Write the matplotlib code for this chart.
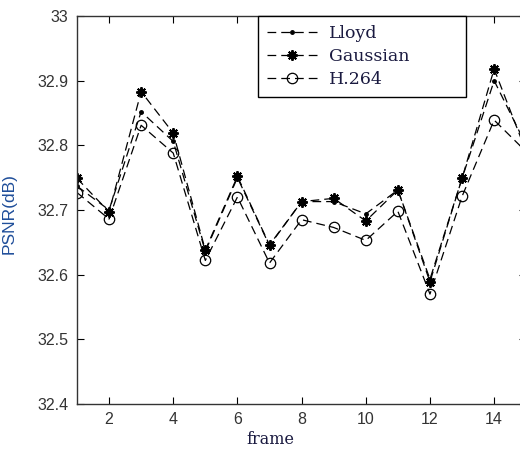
import numpy as np
import matplotlib
matplotlib.use('Agg')
import matplotlib.pyplot as plt

# values
frames = np.arange(1, 16)
lloyd = [32.737, 32.700, 32.852, 32.806, 32.636, 32.750, 32.645, 32.713, 32.713,
         32.694, 32.731, 32.593, 32.749, 32.900, 32.800]
gaussian = [32.749, 32.697, 32.883, 32.819, 32.638, 32.752, 32.646, 32.713, 32.718,
            32.683, 32.731, 32.589, 32.749, 32.918, 32.790]
h264 = [32.727, 32.686, 32.831, 32.788, 32.622, 32.720, 32.618, 32.685, 32.673,
        32.653, 32.698, 32.570, 32.721, 32.839, 32.790]
names = ['Lloyd', 'Gaussian', 'H.264']

xticks = [2, 4, 6, 8, 10, 12, 14]
yticks = [32.4, 32.5, 32.6, 32.7, 32.8, 32.9, 33]
ylabels = ['32.4', '32.5', '32.6', '32.7', '32.8', '32.9', '33']

fig = plt.figure(figsize=(5.2, 4.49), dpi=100)
ax = fig.add_axes([0.148, 0.1002, 0.864, 0.8642])

dash = (0, (7, 4))
ax.plot(frames, lloyd, color='k', lw=0.9, linestyle=dash, marker='.',
        markersize=5, label=names[0])
ax.plot(frames, gaussian, color='k', lw=0.9, linestyle=dash, marker=(8, 2, 0),
        markersize=7.5, markeredgewidth=1.4, label=names[1])
ax.plot(frames, h264, color='k', lw=0.9, linestyle=dash, marker='o',
        markersize=7.5, markerfacecolor='none', markeredgewidth=0.9, label=names[2])

ax.set_xlim(1, 15)
ax.set_ylim(32.4, 33)
ax.set_xticks(xticks)
ax.set_yticks(yticks)
ax.set_yticklabels(ylabels)
ax.tick_params(direction='in', length=5, width=0.8, top=True, right=True,
               labelsize=11.5, labelcolor='#333333', pad=6)
for lab in ax.get_xticklabels() + ax.get_yticklabels():
    lab.set_family('Liberation Sans')
for sp in ax.spines.values():
    sp.set_color('#333333')
    sp.set_linewidth(1.0)

ax.set_ylabel('PSNR(dB)', family='Liberation Sans', fontsize=12.5, color='#1f4e9a')
ax.yaxis.set_label_coords(-0.135, 0.49)
ax.set_xlabel('frame', family='DejaVu Serif', fontsize=11.5, color='#1a1a40')
ax.xaxis.set_label_coords(0.43, -0.07)

leg = ax.legend(bbox_to_anchor=(0.403, 0.789, 0.463, 0.211), loc='upper left',
                mode='expand', fancybox=False, edgecolor='k', framealpha=1,
                borderaxespad=0, borderpad=0.5, handlelength=2.9, handletextpad=0.7,
                labelspacing=0.36,
                prop={'family': 'DejaVu Serif', 'size': 12.5})
leg.get_frame().set_linewidth(1.0)
for t in leg.get_texts():
    t.set_color('#1a1a40')

fig.savefig('out.png', dpi=100)
